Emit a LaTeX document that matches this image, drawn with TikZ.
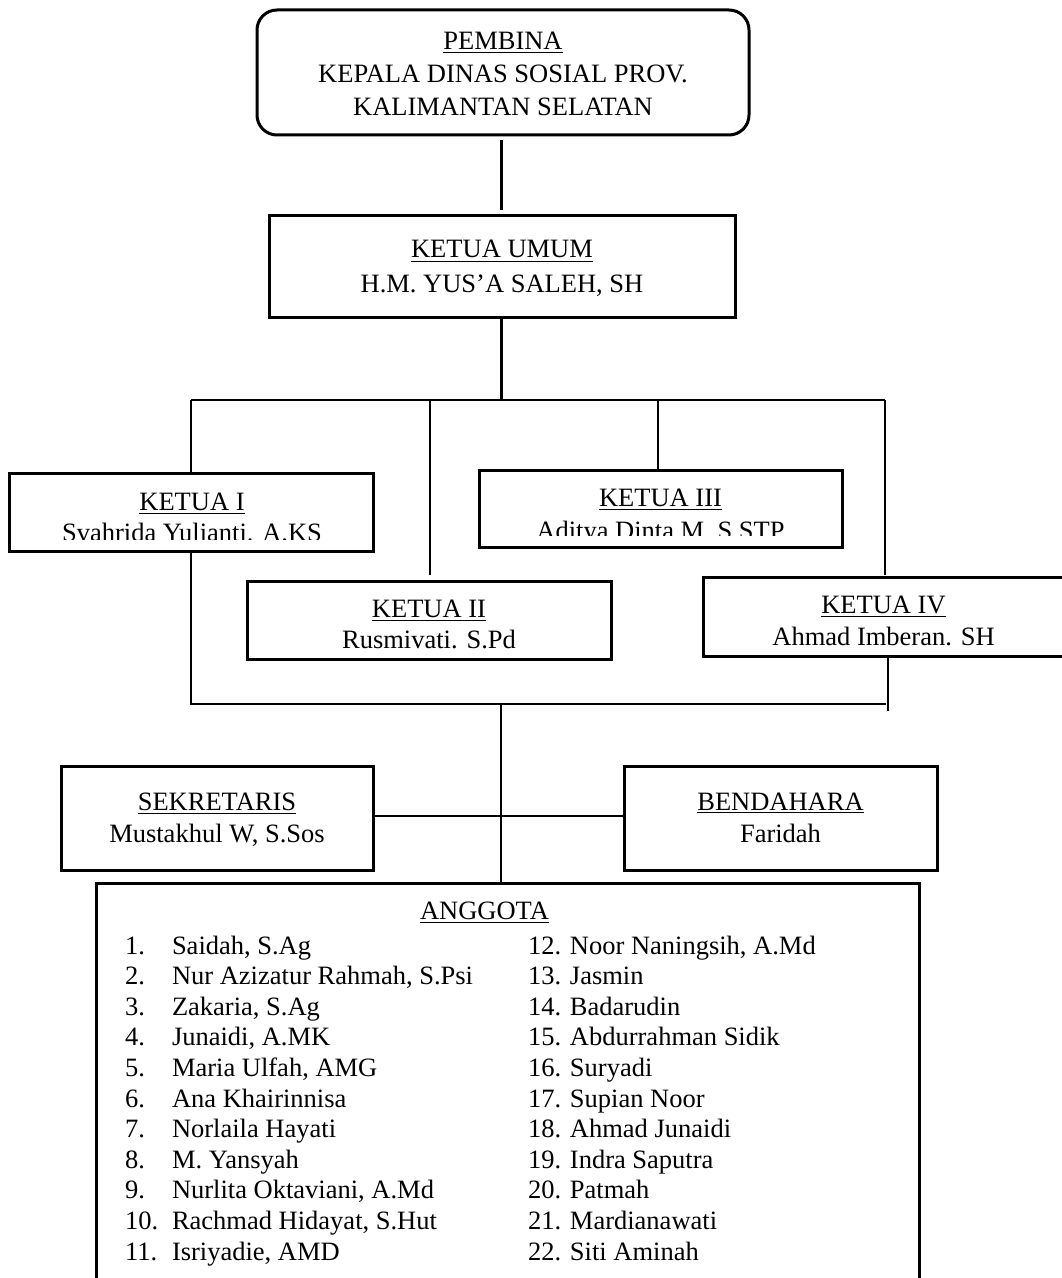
\documentclass[tikz,border=0pt]{standalone}
\usepackage{fontspec}
\setmainfont{Liberation Serif}
\begin{document}
\begin{tikzpicture}[x=0.5pt,y=-0.5pt,
  box/.style={draw, line width=1.5pt, inner sep=0pt, outer sep=0pt},
  conn/.style={line width=1.2pt},
  lbl/.style={inner sep=0pt, outer sep=0pt, anchor=base, font=\fontsize{13.25pt}{16pt}\selectfont},
  item/.style={inner sep=0pt, outer sep=0pt, anchor=base west, font=\fontsize{13.25pt}{16pt}\selectfont}]
\useasboundingbox (0,0) rectangle (1061,1278);

% PEMBINA
\node[box, rounded corners=10pt, minimum width=246pt, minimum height=62.5pt] (pembina) at (503,72.5) {};
\node[lbl] (pembinaT) at (503,50) {\underline{PEMBINA}};
\node[lbl] (pembinaA) at (503,82.5) {KEPALA DINAS SOSIAL PROV.};
\node[lbl] (pembinaB) at (503,115.5) {KALIMANTAN SELATAN};

% KETUA UMUM
\node[box, minimum width=233pt, minimum height=51pt] (umum) at (502,267) {};
\node[lbl] (umumT) at (502,258) {\underline{KETUA UMUM}};
\node[lbl] (umumN) at (502,292.5) {H.M. YUS’A SALEH, SH};

% KETUA I
\node[box, minimum width=182pt, minimum height=39pt] (k1) at (191,512) {};
\node[lbl] (k1T) at (192,510) {\underline{KETUA I}};
\begin{scope}
  \clip (9,470) rectangle (373,539.5);
  \node[lbl] (k1N) at (192,541) {Svahrida Yulianti. A.KS};
\end{scope}

% KETUA II
\node[box, minimum width=182pt, minimum height=39pt] (k2) at (429,620) {};
\node[lbl] (k2T) at (429,617) {\underline{KETUA II}};
\begin{scope}
  \clip (247,580) rectangle (611,649.5);
  \node[lbl] (k2N) at (429,648) {Rusmivati. S.Pd};
\end{scope}

% KETUA III
\node[box, minimum width=181.5pt, minimum height=38.5pt] (k3) at (660.5,508.5) {};
\node[lbl] (k3T) at (660.5,506) {\underline{KETUA III}};
\begin{scope}
  \clip (479,470) rectangle (842,535);
  \node[lbl] (k3N) at (660.5,539) {Aditya Dinta M. S.STP};
\end{scope}

% KETUA IV
\node[box, minimum width=180.5pt, minimum height=39.5pt] (k4) at (883.5,616.5) {};
\node[lbl] (k4T) at (883.5,613) {\underline{KETUA IV}};
\begin{scope}
  \clip (703,577) rectangle (1061,647);
  \node[lbl] (k4N) at (883.5,645) {Ahmad Imberan. SH};
\end{scope}

% SEKRETARIS / BENDAHARA
\node[box, minimum width=156pt, minimum height=52pt] (sek) at (217,818) {};
\node[lbl] (sekT) at (217,810) {\underline{SEKRETARIS}};
\node[lbl] (sekN) at (217,842) {Mustakhul W, S.Sos};
\node[box, minimum width=156.5pt, minimum height=52pt] (ben) at (780.5,818) {};
\node[lbl] (benT) at (780.5,810) {\underline{BENDAHARA}};
\node[lbl] (benN) at (780.5,842) {Faridah};

% ANGGOTA (open box)
\coordinate (angtop) at (501,883);
\draw[line width=1.5pt] (96,1300) -- (96,883) -- (919,883) -- (919,1300);
\node[lbl] (angT) at (484.5,919) {\underline{ANGGOTA}};
\foreach \num/\name [count=\k from 0] in {
  {1.}/{Saidah, S.Ag},
  {2.}/{Nur Azizatur Rahmah, S.Psi},
  {3.}/{Zakaria, S.Ag},
  {4.}/{Junaidi, A.MK},
  {5.}/{Maria Ulfah, AMG},
  {6.}/{Ana Khairinnisa},
  {7.}/{Norlaila Hayati},
  {8.}/{M. Yansyah},
  {9.}/{Nurlita Oktaviani, A.Md},
  {10.}/{Rachmad Hidayat, S.Hut},
  {11.}/{Isriyadie, AMD}} {
  \node[item] (num\k) at (125,954+\k*30.6) {\num};
  \node[item] (name\k) at (172,954+\k*30.6) {\name};
}
\foreach \name [count=\k from 0] in {
  {12. Noor Naningsih, A.Md},
  {13. Jasmin},
  {14. Badarudin},
  {15. Abdurrahman Sidik},
  {16. Suryadi},
  {17. Supian Noor},
  {18. Ahmad Junaidi},
  {19. Indra Saputra},
  {20. Patmah},
  {21. Mardianawati},
  {22. Siti Aminah}} {
  \node[item] (right\k) at (528,954+\k*30.6) {\name};
}

% connectors
\coordinate (busL) at (191,400);
\coordinate (busR) at (885,400);
\coordinate (busC) at (501.5,400);
\coordinate (b2) at (430,400);
\coordinate (b3) at (658,400);
\draw[conn, shorten <=2.5pt, shorten >=3pt] (pembina.south -| busC) -- (umum.north -| busC);
\draw[conn] (umum.south -| busC) -- (busC);
\draw[conn] (busL) -- (busR);
\draw[conn] (busL) -- (k1.north);
\draw[conn, shorten >=3pt] (b2) -- (b2 |- k2.north);
\draw[conn] (b3) -- (b3 |- k3.north);
\draw[conn, shorten >=1pt] (busR) -- (busR |- k4.north);

\coordinate (botL) at (191,704);
\coordinate (botR) at (886,704);
\coordinate (botC) at (501,704);
\coordinate (b4) at (888,711);
\draw[conn, shorten <=1pt] (k1.south) -- (botL) -- (botR);
\draw[conn, shorten <=1pt] (b4 |- k4.south) -- (b4);
\draw[conn] (botC) -- (angtop);
\draw[conn] ([yshift=1pt]sek.east) -- ([yshift=1pt]ben.west);
\end{tikzpicture}
\end{document}
